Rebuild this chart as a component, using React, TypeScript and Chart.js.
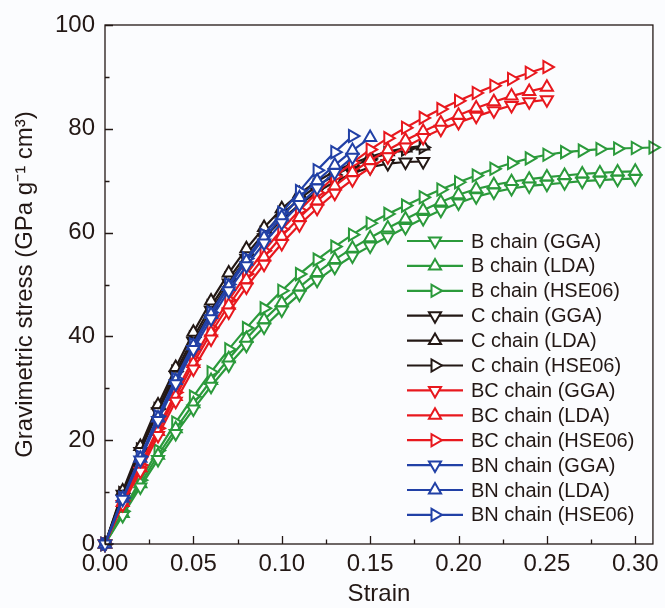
import React, { useEffect, useRef } from "react";
import { Chart, registerables } from "chart.js";

Chart.register(...registerables);

// ---------------- data ----------------
const strain = [
  0, 0.01, 0.02, 0.03, 0.04, 0.05, 0.06, 0.07, 0.08, 0.09, 0.1, 0.11, 0.12, 0.13, 0.14, 0.15,
  0.16, 0.17, 0.18, 0.19, 0.2, 0.21, 0.22, 0.23, 0.24, 0.25, 0.26, 0.27, 0.28, 0.29, 0.3, 0.31,
];

const bChainGGA = [0, 5.5, 11.0, 16.3, 21.3, 26.0, 30.4, 34.5, 38.3, 41.8, 45.1, 48.1, 50.8, 53.3, 55.5, 57.4, 59.2, 61.0, 62.7, 64.3, 65.7, 66.9, 67.8, 68.5, 69.0, 69.3, 69.6, 69.9, 70.1, 70.3, 70.4];
const bChainLDA = [0, 5.9, 11.6, 17.1, 22.2, 27.0, 31.5, 35.7, 39.6, 43.2, 46.5, 49.5, 52.3, 54.8, 57.0, 59.0, 60.9, 62.6, 64.3, 65.9, 67.3, 68.4, 69.2, 69.8, 70.3, 70.7, 71.0, 71.3, 71.5, 71.7, 71.8];
const bChainHSE06 = [0, 6.3, 12.3, 18.0, 23.4, 28.4, 33.1, 37.5, 41.6, 45.4, 48.8, 52.0, 54.8, 57.3, 59.6, 61.8, 63.6, 65.2, 66.8, 68.3, 69.7, 71.0, 72.3, 73.4, 74.3, 75.0, 75.5, 75.8, 76.1, 76.2, 76.3, 76.4];

const cChainGGA = [0, 9.6, 17.8, 25.5, 32.5, 39.0, 45.0, 50.3, 55.0, 59.0, 62.5, 65.4, 67.8, 69.8, 71.4, 72.6, 73.3, 73.6, 73.7];
const cChainLDA = [0, 10.2, 18.8, 26.8, 34.0, 40.8, 46.8, 52.2, 56.9, 61.0, 64.6, 67.5, 69.9, 71.8, 73.3, 74.6, 75.6, 76.3, 76.7];
const cChainHSE06 = [0, 9.8, 18.2, 26.0, 33.2, 39.8, 45.8, 51.1, 55.8, 59.9, 63.5, 66.5, 69.0, 71.1, 72.8, 74.2, 75.3, 76.0, 76.4];

const bcChainGGA = [0, 7.6, 14.0, 20.9, 27.5, 33.7, 39.5, 44.7, 49.5, 53.9, 57.9, 61.5, 64.7, 67.6, 70.2, 72.5, 74.6, 76.5, 78.3, 79.9, 81.2, 82.4, 83.5, 84.5, 85.2, 85.6];
const bcChainLDA = [0, 8.0, 14.7, 21.7, 28.4, 34.8, 40.7, 46.0, 50.9, 55.3, 59.3, 62.9, 66.1, 69.0, 71.6, 73.9, 75.9, 77.8, 79.5, 81.1, 82.6, 84.0, 85.2, 86.3, 87.2, 88.0];
const bcChainHSE06 = [0, 8.3, 15.2, 22.3, 29.2, 35.6, 41.6, 47.0, 52.0, 56.5, 60.6, 64.3, 67.7, 70.8, 73.5, 76.0, 78.2, 80.2, 82.1, 83.8, 85.4, 86.9, 88.3, 89.6, 90.8, 91.9];

const bnChainGGA = [0, 8.6, 16.2, 23.8, 30.9, 37.5, 43.4, 48.8, 53.6, 58.0, 61.9, 65.4, 68.6, 71.6, 74.5];
const bnChainLDA = [0, 8.8, 16.5, 24.3, 31.5, 38.2, 44.2, 49.6, 54.5, 59.0, 63.0, 66.7, 70.0, 73.0, 75.8, 78.3];
const bnChainHSE06 = [0, 8.9, 16.8, 24.6, 31.8, 38.5, 44.6, 50.0, 55.0, 59.6, 63.8, 68.0, 72.0, 75.5, 78.6];

const seriesLabels = [
  "B chain (GGA)", "B chain (LDA)", "B chain (HSE06)",
  "C chain (GGA)", "C chain (LDA)", "C chain (HSE06)",
  "BC chain (GGA)", "BC chain (LDA)", "BC chain (HSE06)",
  "BN chain (GGA)", "BN chain (LDA)", "BN chain (HSE06)",
];
const seriesValues = [
  bChainGGA, bChainLDA, bChainHSE06,
  cChainGGA, cChainLDA, cChainHSE06,
  bcChainGGA, bcChainLDA, bcChainHSE06,
  bnChainGGA, bnChainLDA, bnChainHSE06,
];

const xTickValues = [0, 0.05, 0.1, 0.15, 0.2, 0.25, 0.3];
const yTickValues = [0, 20, 40, 60, 80, 100];

// ---------------- styles ----------------
const GREEN = "#2b9a3b";
const BLACK = "#231815";
const RED = "#e8181e";
const BLUE = "#2140a6";
const groupColors = [GREEN, BLACK, RED, BLUE];
const methodRotation = [180, 0, 90]; // GGA down, LDA up, HSE06 right
const drawOrder = [3, 2, 1, 0];
const FONT = "'Liberation Sans', Arial, Helvetica, sans-serif";
const AXIS = "#231815";
const BG = "#fbfcfe";
const POINT_R = 7;
const POINT_BW = 2;

function drawTriangle(ctx: CanvasRenderingContext2D, x: number, y: number, r: number, rotDeg: number) {
  let rad = (rotDeg * Math.PI) / 180;
  ctx.beginPath();
  ctx.moveTo(x + Math.sin(rad) * r, y - Math.cos(rad) * r);
  rad += (2 * Math.PI) / 3;
  ctx.lineTo(x + Math.sin(rad) * r, y - Math.cos(rad) * r);
  rad += (2 * Math.PI) / 3;
  ctx.lineTo(x + Math.sin(rad) * r, y - Math.cos(rad) * r);
  ctx.closePath();
  ctx.fill();
  ctx.stroke();
}

const decorPlugin = {
  id: "decor",
  beforeDraw(chart: any) {
    const { ctx, width, height } = chart;
    ctx.save();
    ctx.fillStyle = BG;
    ctx.fillRect(0, 0, width, height);
    ctx.restore();
  },
  afterDraw(chart: any) {
    const { ctx, chartArea: a, scales } = chart;
    ctx.save();
    ctx.strokeStyle = AXIS;
    ctx.lineWidth = 1.3;
    ctx.strokeRect(a.left, a.top, a.right - a.left, a.bottom - a.top);
    // inward ticks
    ctx.beginPath();
    for (let i = 0; i <= 12; i++) {
      const v = i * 0.025;
      const px = Math.round(scales.x.getPixelForValue(v)) + 0.5;
      const len = i % 2 === 0 ? 8 : 4.5;
      ctx.moveTo(px, a.bottom);
      ctx.lineTo(px, a.bottom - len);
    }
    for (let i = 0; i <= 10; i++) {
      const v = i * 10;
      const py = Math.round(scales.y.getPixelForValue(v)) + 0.5;
      const len = i % 2 === 0 ? 8 : 4.5;
      ctx.moveTo(a.left, py);
      ctx.lineTo(a.left + len, py);
    }
    ctx.stroke();

    // legend
    const x0 = 407;
    const x1 = 463;
    const xm = 435;
    const tx = 471;
    const y0 = 241;
    const dy = 24.9;
    chart.data.datasets.forEach((ds: any, i: number) => {
      const y = y0 + i * dy;
      ctx.strokeStyle = ds.borderColor;
      ctx.lineWidth = ds.borderWidth;
      ctx.beginPath();
      ctx.moveTo(x0, y);
      ctx.lineTo(x1, y);
      ctx.stroke();
      ctx.lineWidth = ds.pointBorderWidth;
      ctx.fillStyle = ds.pointBackgroundColor;
      ctx.strokeStyle = ds.pointBorderColor;
      drawTriangle(ctx, xm, y, ds.pointRadius, ds.pointRotation);
      ctx.fillStyle = AXIS;
      ctx.font = `20px ${FONT}`;
      ctx.textAlign = "left";
      ctx.textBaseline = "middle";
      ctx.fillText(ds.label, tx, y + 1);
    });
    ctx.restore();
  },
};

export default function App() {
  const ref = useRef<HTMLCanvasElement>(null);
  useEffect(() => {
    if (!ref.current) return;
    const datasets = seriesValues.map((vals, i) => {
      const g = Math.floor(i / 3);
      const m = i % 3;
      return {
        label: seriesLabels[i],
        data: vals.map((v, k) => ({ x: strain[k], y: v })),
        borderColor: groupColors[g],
        backgroundColor: groupColors[g],
        borderWidth: 2.2,
        pointStyle: "triangle",
        pointRotation: methodRotation[m],
        pointRadius: POINT_R,
        pointBorderWidth: POINT_BW,
        pointBackgroundColor: "#ffffff",
        pointBorderColor: groupColors[g],
        tension: 0,
        clip: false,
        order: drawOrder[g],
      };
    });
    const chart = new Chart(ref.current, {
      type: "line",
      data: { datasets } as any,
      options: {
        animation: false,
        responsive: false,
        devicePixelRatio: 1,
        layout: { padding: { left: 0, right: 12, top: 25, bottom: 0 } },
        plugins: { legend: { display: false }, tooltip: { enabled: false } },
        scales: {
          x: {
            type: "linear",
            min: 0,
            max: 0.31,
            grid: { display: false, drawTicks: false },
            border: { display: false },
            afterBuildTicks: (s: any) => {
              s.ticks = xTickValues.map((v) => ({ value: v }));
            },
            afterFit: (s: any) => {
              s.height = 64;
            },
            ticks: {
              padding: 6,
              color: AXIS,
              font: { family: FONT, size: 24 },
              callback: (v: any) => Number(v).toFixed(2),
              maxRotation: 0,
              autoSkip: false,
            },
            title: {
              display: true,
              text: "Strain",
              color: AXIS,
              font: { family: FONT, size: 24, lineHeight: 1.15 },
              padding: { top: 0, bottom: 0 },
            },
          },
          y: {
            type: "linear",
            min: 0,
            max: 100,
            grid: { display: false, drawTicks: false },
            border: { display: false },
            afterBuildTicks: (s: any) => {
              s.ticks = yTickValues.map((v) => ({ value: v }));
            },
            afterFit: (s: any) => {
              s.width = 105;
            },
            ticks: {
              padding: 10,
              color: AXIS,
              font: { family: FONT, size: 24 },
              autoSkip: false,
            },
            title: {
              display: true,
              text: "Gravimetric stress (GPa g\u207B\u00B9 cm\u00B3)",
              color: AXIS,
              font: { family: FONT, size: 24, lineHeight: 1.15 },
              padding: { top: 12, bottom: 0 },
            },
          },
        },
      } as any,
      plugins: [decorPlugin],
    });
    return () => chart.destroy();
  }, []);
  return (
    <div style={{ position: "fixed", left: 0, top: 0, width: 665, height: 608, background: BG }}>
      <canvas ref={ref} width={665} height={608} style={{ display: "block" }} />
    </div>
  );
}
